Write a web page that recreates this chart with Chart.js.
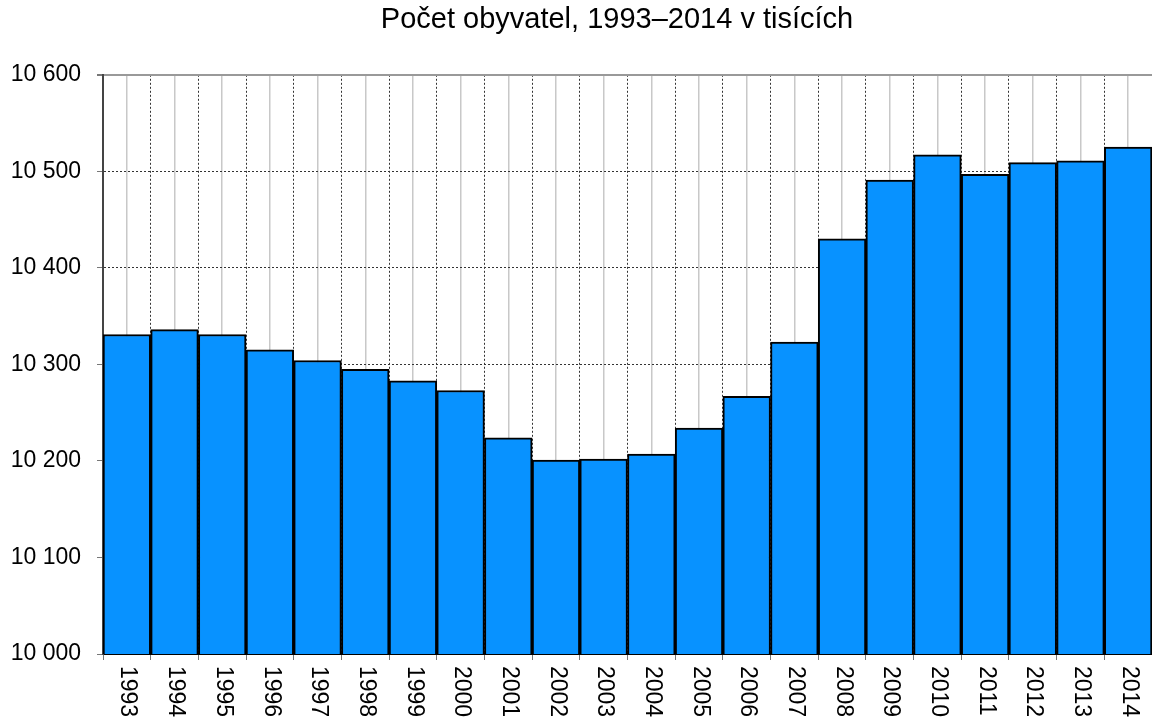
<!DOCTYPE html>
<html>
<head>
<meta charset="utf-8">
<script src="https://cdn.jsdelivr.net/npm/chart.js@4.4.1/dist/chart.umd.min.js"></script>
<style>
  body { margin: 0; background: #fff; }
  canvas { display: block; }
</style>
</head>
<body>
<canvas id="myChart" width="1152" height="722"></canvas>
<script>
const years = ['1993', '1994', '1995', '1996', '1997', '1998', '1999', '2000', '2001', '2002', '2003',
    '2004', '2005', '2006', '2007', '2008', '2009', '2010', '2011', '2012', '2013', '2014'];
const population = [10331, 10336, 10331, 10315, 10304, 10295, 10283, 10273, 10224, 10201, 10202,
    10207, 10234, 10267, 10323, 10430, 10491, 10517, 10497, 10509, 10511, 10525];
const yMin = 10000;
const yMax = 10600;
const yStep = 100;

const FONT = '"Liberation Sans", Arial, sans-serif';

function spaced(v) {
    return String(v).replace(/\B(?=(\d{3})+(?!\d))/g, ' ');
}

// year labels read top-to-bottom, drawn at the category centres
const verticalLabels = {
    id: 'verticalLabels',
    afterLayout(chart) {
        // title sits a bit right of the canvas centre in the original
        chart.titleBlock.left = 82;
    },
    afterDraw(chart) {
        const ctx = chart.ctx;
        const x = chart.scales.x;
        ctx.save();
        ctx.font = '23px ' + FONT;
        ctx.fillStyle = '#000';
        ctx.textAlign = 'left';
        ctx.textBaseline = 'middle';
        years.forEach((lab, i) => {
            ctx.save();
            ctx.translate(x.getPixelForValue(i) + 1, chart.chartArea.bottom + 12);
            ctx.rotate(Math.PI / 2);
            ctx.fillText(lab, 0, 0);
            ctx.restore();
        });
        ctx.restore();
    }
};

const ctx = document.getElementById('myChart').getContext('2d');
const myChart = new Chart(ctx, {
    type: 'bar',
    data: {
        labels: years,
        datasets: [{
            label: 'Počet obyvatel',
            data: population,
            backgroundColor: '#0892ff',
            borderColor: '#000',
            borderWidth: 2,
            borderSkipped: false,
            barPercentage: 1,
            categoryPercentage: 1
        }]
    },
    options: {
        responsive: false,
        animation: false,
        layout: { padding: 0 },
        plugins: {
            legend: { display: false },
            tooltip: { enabled: false },
            title: {
                display: true,
                text: 'Počet obyvatel, 1993–2014 v tisících',
                color: '#000',
                font: { family: FONT, size: 29, weight: 'normal' },
                padding: { top: 3, bottom: 37 }
            }
        },
        scales: {
            x: {
                offset: true,
                grid: {
                    offset: true,
                    color: '#333',
                    lineWidth: 1,
                    drawTicks: true,
                    tickLength: 6,
                    tickColor: '#777'
                },
                border: { display: true, color: '#000', width: 2, dash: [2, 2] },
                ticks: { display: false },
                afterFit(scale) { scale.height = 68; }
            },
            x2: {
                type: 'category',
                position: 'bottom',
                offset: true,
                grid: {
                    offset: false,
                    color: '#c8c8c8',
                    lineWidth: 1.5,
                    drawTicks: false
                },
                border: { display: false },
                ticks: { display: false },
                afterFit(scale) { scale.height = 0; }
            },
            y: {
                min: yMin,
                max: yMax,
                ticks: {
                    stepSize: yStep,
                    color: '#000',
                    font: { family: FONT, size: 23 },
                    padding: 16,
                    callback: (v) => spaced(v)
                },
                grid: {
                    color: (c) => c.tick && c.tick.value === yMax ? '#999' : '#333',
                    lineWidth: (c) => c.tick && c.tick.value === yMax ? 2 : 1,
                    tickLength: 6,
                    tickColor: '#777'
                },
                border: {
                    display: true,
                    color: '#444',
                    width: 2,
                    dash: (c) => c.tick && c.tick.value === yMax ? [] : [2, 2]
                },
                afterFit(scale) { scale.width = 103; }
            }
        }
    },
    plugins: [verticalLabels]
});
</script>
</body>
</html>
